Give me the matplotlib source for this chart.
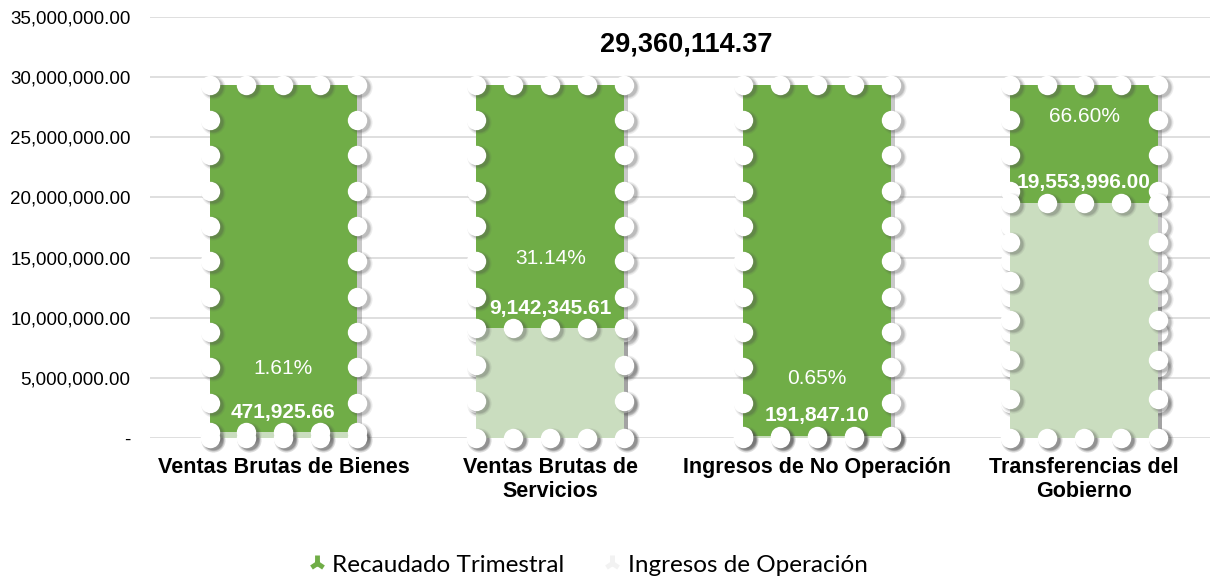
import matplotlib
matplotlib.use("Agg")
import matplotlib.pyplot as plt
import matplotlib.patheffects as pe
from matplotlib.lines import Line2D
import numpy as np

categories = ["Ventas Brutas de Bienes", "Ventas Brutas de\nServicios",
              "Ingresos de No Operación", "Transferencias del\nGobierno"]
total_recaudado = 29360114.37
ingresos_operacion = [471925.66, 9142345.61, 191847.10, 19553996.00]
yticks = [0, 5e6, 10e6, 15e6, 20e6, 25e6, 30e6, 35e6]
series_names = ["Recaudado Trimestral", "Ingresos de Operación"]

dark = "#70AD47"
light = "#CADDBF"
pct_offsets_px = [64, 70, 57, 86]

W, H = 1210, 578
fig = plt.figure(figsize=(W / 100, H / 100), dpi=100)
ax = fig.add_axes([150 / W, (H - 438) / H, 1 - 150 / W, (438 - 17) / H])

x = np.arange(len(categories))
bw = 0.554
bar_shadow = [pe.SimplePatchShadow(offset=(3, -2), shadow_rgbFace="0.3", alpha=0.3),
              pe.Normal()]

ax.set_xlim(-0.5, 3.5 - 7.5 / 267)
ax.set_ylim(0, 35e6)

tot = [total_recaudado] * len(categories)
b1 = ax.bar(x, tot, width=bw, color=dark, linewidth=0, zorder=3)
b2 = ax.bar(x, ingresos_operacion, width=bw, color=light, linewidth=0, zorder=5)
for p in list(b1) + list(b2):
    p.set_path_effects(bar_shadow)

def perforate(bars, z):
    """White round dots along the edges of each bar (Excel-style perforated border)."""
    tr = ax.transData
    inv = tr.inverted()
    spacing = 36.6
    for p in bars:
        x0, y0 = p.get_x(), p.get_y()
        x1, y1 = x0 + p.get_width(), y0 + p.get_height()
        corners = tr.transform([(x0, y1), (x1, y1), (x1, y0), (x0, y0)])
        pts = []
        for k in range(4):
            a, b = corners[k], corners[(k + 1) % 4]
            L = np.hypot(*(b - a))
            n = max(1, int(round(L / spacing)))
            t = np.arange(n) / n
            pts.append(a + np.outer(t, b - a))
        pts = np.vstack(pts)
        for s, al in [(300, 0.10), (240, 0.14), (200, 0.18)]:
            sh = inv.transform(pts + np.array([3.0, -2.0]))
            ax.scatter(sh[:, 0], sh[:, 1], s=s, color="0.3", alpha=al, linewidths=0,
                       zorder=z, clip_on=False)
        dp = inv.transform(pts)
        ax.scatter(dp[:, 0], dp[:, 1], s=195, color="white", linewidths=0,
                   zorder=z + 0.5, clip_on=False)

perforate(b1, 3.6)
perforate(b2, 5.6)

ax.set_yticks(yticks)
ax.set_yticklabels(["-"] + [f"{v:,.2f}" for v in yticks[1:]],
                   fontsize=13.5, family="Liberation Sans")
ax.set_xticks(x)
ax.set_xticklabels(categories, fontsize=15.5, fontweight="bold", family="Liberation Sans",
                   linespacing=1.15)
ax.tick_params(axis="both", length=0)
ax.tick_params(axis="y", pad=14)
ax.tick_params(axis="x", pad=14)
ax.grid(axis="y", color="#D9D9D9", linewidth=1.2, zorder=0)
ax.set_axisbelow(True)
for s in ax.spines.values():
    s.set_visible(False)

for i, v in enumerate(ingresos_operacion):
    ax.annotate(f"{v:,.2f}", (x[i], v), xytext=(0, 20 * 0.72), textcoords="offset points",
                ha="center", va="center", color="white", fontsize=15, fontweight="bold",
                family="Liberation Sans", zorder=8)
    pct = v / total_recaudado * 100
    ax.annotate(f"{pct:.2f}%", (x[i], v), xytext=(0, pct_offsets_px[i] * 0.72),
                textcoords="offset points", ha="center", va="center", color="white",
                fontsize=15, family="Liberation Sans", zorder=8)

fig.text(686 / W, 1 - 45 / H, f"{total_recaudado:,.2f}", ha="center", va="center",
         fontsize=19.5, fontweight="bold", family="Liberation Sans")

handles = [Line2D([], [], linestyle="none", marker="2", markersize=11, markeredgewidth=3.5,
                  color=dark),
           Line2D([], [], linestyle="none", marker="2", markersize=11, markeredgewidth=3.5,
                  color="#F2F2F2")]
fig.legend(handles, series_names, loc="center", bbox_to_anchor=(588 / W, 1 - 565 / H),
           ncol=2, frameon=False, prop={"family": "Lato", "size": 17.5},
           handlelength=0.7, handletextpad=0.3, columnspacing=1.6)

fig.savefig("out.png", dpi=100)
